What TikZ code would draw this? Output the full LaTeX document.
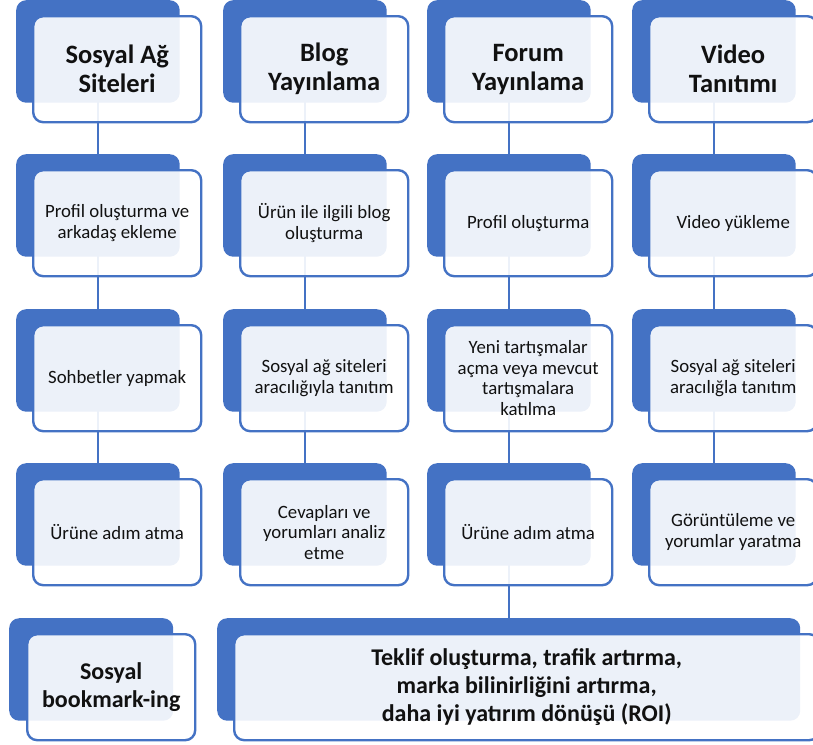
\documentclass[tikz,border=0pt]{standalone}
\usepackage{fontspec}
\setmainfont{Carlito}
\usetikzlibrary{backgrounds}
\definecolor{acc}{HTML}{4472C4}
\definecolor{txt}{HTML}{111111}
\tikzset{
  backbox/.style={fill=acc, draw=none, rounded corners=10pt, minimum width=163.5pt, minimum height=102.5pt, anchor=north west, inner sep=0pt},
  frontbox/.style={fill=white, fill opacity=0.9, text opacity=1, draw=acc, line width=2.4pt, rounded corners=10pt, minimum width=168pt, minimum height=106pt, anchor=north west, inner sep=0pt, align=center, text=txt},
  headtext/.style={font=\fontsize{26.5}{29}\selectfont\bfseries},
  marktext/.style={font=\fontsize{24}{28}\selectfont\bfseries},
  bodytext/.style={font=\fontsize{18.8}{20.5}\selectfont},
  widetext/.style={font=\fontsize{24}{28}\selectfont\bfseries},
  link/.style={draw=acc, line width=2.4pt}
}
\begin{document}
\begin{tikzpicture}[x=1pt,y=-1pt]
\useasboundingbox (0,0) rectangle (813,744);
% column 1
\node[backbox] (b11) at (16,0) {};
\node[frontbox,headtext] (f11) at (32,15) {Sosyal Ağ\\Siteleri};
\node[backbox] (b12) at (16,154) {};
\node[frontbox,bodytext] (f12) at (32,169) {Profil oluşturma ve\\arkadaş ekleme};
\node[backbox] (b13) at (16,309) {};
\node[frontbox,bodytext] (f13) at (32,324) {Sohbetler yapmak};
\node[backbox] (b14) at (16,463) {};
\node[frontbox,bodytext] (f14) at (32,478) {Ürüne adım atma};
% column 2
\node[backbox] (b21) at (223,0) {};
\node[frontbox,headtext] (f21) at (239,15) {Blog\\Yayınlama};
\node[backbox] (b22) at (223,154) {};
\node[frontbox,bodytext] (f22) at (239,169) {Ürün ile ilgili blog\\oluşturma};
\node[backbox] (b23) at (223,309) {};
\node[frontbox,bodytext] (f23) at (239,324) {Sosyal ağ siteleri\\aracılığıyla tanıtım};
\node[backbox] (b24) at (223,463) {};
\node[frontbox,bodytext] (f24) at (239,478) {Cevapları ve\\yorumları analiz\\etme};
% column 3
\node[backbox] (b31) at (427,0) {};
\node[frontbox,headtext] (f31) at (443,15) {Forum\\Yayınlama};
\node[backbox] (b32) at (427,154) {};
\node[frontbox,bodytext] (f32) at (443,169) {Profil oluşturma};
\node[backbox] (b33) at (427,309) {};
\node[frontbox,bodytext] (f33) at (443,324) {Yeni tartışmalar\\açma veya mevcut\\tartışmalara\\katılma};
\node[backbox] (b34) at (427,463) {};
\node[frontbox,bodytext] (f34) at (443,478) {Ürüne adım atma};
% column 4
\node[backbox] (b41) at (632,0) {};
\node[frontbox,headtext] (f41) at (648,15) {Video\\Tanıtımı};
\node[backbox] (b42) at (632,154) {};
\node[frontbox,bodytext] (f42) at (648,169) {Video yükleme};
\node[backbox] (b43) at (632,309) {};
\node[frontbox,bodytext] (f43) at (648,324) {Sosyal ağ siteleri\\aracılığla tanıtım};
\node[backbox] (b44) at (632,463) {};
\node[frontbox,bodytext] (f44) at (648,478) {Görüntüleme ve\\yorumlar yaratma};
% bottom row
\node[backbox, minimum width=164pt] (b51) at (9,618) {};
\node[frontbox,marktext] (f51) at (26,633) {Sosyal\\bookmark-ing};
\node[backbox, minimum width=583pt] (w) at (217,618) {};
\node[frontbox,widetext, minimum width=585pt] (fw) at (233,633) {Teklif oluşturma, trafik artırma,\\marka bilinirliğini artırma,\\daha iyi yatırım dönüşü (ROI)};
% connectors
\begin{pgfonlayer}{background}
\draw[link] (b11.center) -- (b12.center) -- (b13.center) -- (b14.center);
\draw[link] (b21.center) -- (b22.center) -- (b23.center) -- (b24.center);
\draw[link] (b31.center) -- (b32.center) -- (b33.center) -- (b34.center) -- (b34.center |- w.center);
\draw[link] (b41.center) -- (b42.center) -- (b43.center) -- (b44.center);
\end{pgfonlayer}
\end{tikzpicture}
\end{document}
